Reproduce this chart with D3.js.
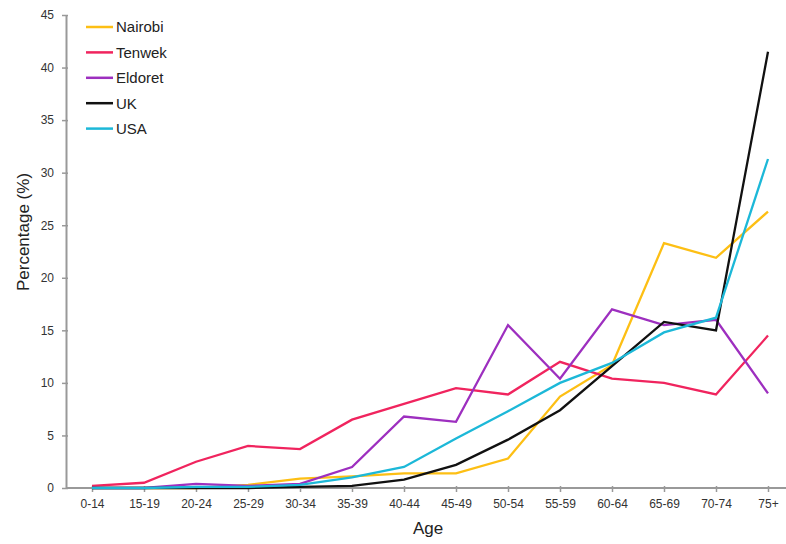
<!DOCTYPE html>
<html><head><meta charset="utf-8">
<script src="https://cdn.jsdelivr.net/npm/d3@7"></script>
<style>body{margin:0;background:#fff}svg{display:block;font-family:"Liberation Sans",Arial,sans-serif}</style>
</head><body><svg id="c" width="786" height="544"></svg>
<script>
const ages = ["0-14","15-19","20-24","25-29","30-34","35-39","40-44","45-49","50-54","55-59","60-64","65-69","70-74","75+"];
const nairobi = [0,0,0,0.3,0.9,1.1,1.4,1.4,2.8,8.7,11.7,23.3,21.9,26.3];
const tenwek  = [0.2,0.5,2.5,4.0,3.7,6.5,8.0,9.5,8.9,12.0,10.4,10.0,8.9,14.5];
const eldoret = [0,0,0.4,0.2,0.4,2.0,6.8,6.3,15.5,10.4,17.0,15.5,16.0,9.0];
const uk      = [0,0,0,0,0.1,0.2,0.8,2.2,4.6,7.4,11.6,15.8,15.0,41.5];
const usa     = [0,0,0.1,0.1,0.3,1.0,2.0,4.7,7.3,10.0,11.9,14.8,16.2,31.3];
const seriesNames = ["Nairobi","Tenwek","Eldoret","UK","USA"];
const seriesColors = ["#fdbf14","#f0245e","#9d2fbf","#111111","#1cb8d8"];
const yTicks = [0,5,10,15,20,25,30,35,40,45];

const series = [nairobi, tenwek, eldoret, uk, usa].map((v,i)=>({name:seriesNames[i],color:seriesColors[i],values:v}));
const svg = d3.select("#c");
const x = d3.scalePoint().domain(ages).range([92,768]);
const y = d3.scaleLinear().domain([0,45]).range([488,15]);
const axisCol = "#999";

// y axis
const ya = svg.append("g").attr("transform","translate(66,0)")
  .call(d3.axisLeft(y).tickValues(yTicks).tickSize(4).tickPadding(8).tickSizeOuter(0));
ya.select(".domain").attr("stroke",axisCol).attr("stroke-width",2);
ya.selectAll(".tick line").attr("x2",2).attr("x1",-4).attr("stroke",axisCol).attr("stroke-width",1.5);
ya.selectAll(".tick text").attr("fill","#333").style("font-size","12px").style("font-family","Liberation Sans, Arial, sans-serif");

// x axis
const xa = svg.append("g").attr("transform","translate(0,488)")
  .call(d3.axisBottom(x).tickSize(0).tickPadding(11));
xa.select(".domain").remove();
xa.append("line").attr("x1",66).attr("x2",786).attr("y1",0).attr("y2",0).attr("stroke",axisCol).attr("stroke-width",2);
xa.selectAll(".tick").append("line").attr("y1",-2).attr("y2",4).attr("stroke",axisCol).attr("stroke-width",1.5);
xa.selectAll(".tick text").attr("fill","#333").style("font-size","12px").style("font-family","Liberation Sans, Arial, sans-serif");

// lines
const line = d3.line().x((d,i)=>x(ages[i])).y(d=>y(d));
svg.append("g").selectAll("path").data(series).join("path")
  .attr("d",d=>line(d.values)).attr("fill","none").attr("stroke",d=>d.color)
  .attr("stroke-width",2.3).attr("stroke-linejoin","miter");

// legend
const lg = svg.append("g").selectAll("g").data(series).join("g")
  .attr("transform",(d,i)=>`translate(86,${27+i*25.4})`);
lg.append("line").attr("x1",0).attr("x2",27).attr("stroke",d=>d.color).attr("stroke-width",2.5);
lg.append("text").attr("x",30).attr("dy","0.36em").text(d=>d.name)
  .attr("fill","#222").style("font-size","15px");

// titles
svg.append("text").attr("x",428).attr("y",534).attr("text-anchor","middle")
  .style("font-size","17px").attr("fill","#222").text("Age");
svg.append("text").attr("transform","translate(29,232) rotate(-90)").attr("text-anchor","middle")
  .style("font-size","17px").attr("fill","#222").text("Percentage (%)");
</script></body></html>
